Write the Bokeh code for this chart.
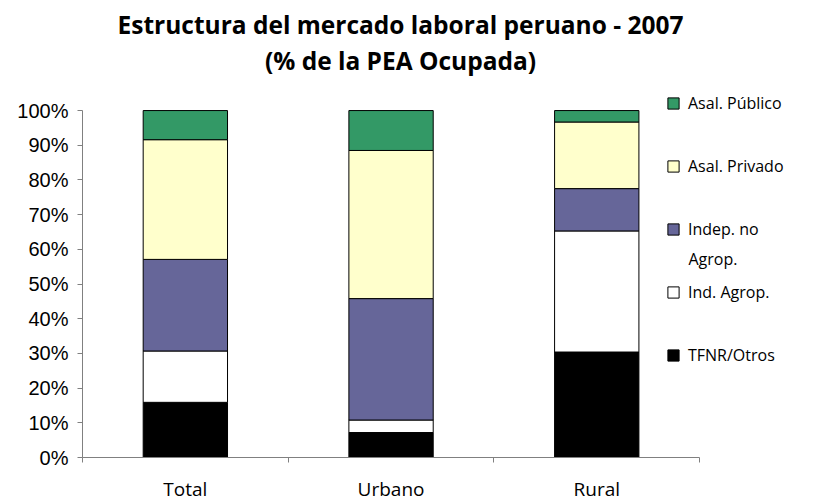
from bokeh.plotting import figure
from bokeh.models import (Range1d, FixedTicker, PrintfTickFormatter, Legend, LegendItem,
                          Label, ColumnDataSource)
from bokeh.embed import file_html
from bokeh.resources import INLINE

categories = ["Total", "Urbano", "Rural"]
series_names = ["TFNR/Otros", "Ind. Agrop.", "Indep. no", "Asal. Privado", "Asal. Público"]
series_name_cont = "Agrop."
tfnr = [15.9, 7.2, 30.4]
ind_agrop = [14.8, 3.6, 34.9]
indep_no_agrop = [26.4, 35.0, 12.2]
asal_privado = [34.5, 42.7, 19.2]
asal_publico = [8.4, 11.5, 3.3]
y_ticks = [0, 10, 20, 30, 40, 50, 60, 70, 80, 90, 100]
title_lines = ["Estructura del mercado laboral peruano - 2007", "(% de la PEA Ocupada)"]

colors = ["#000000", "#FFFFFF", "#666699", "#FFFFCC", "#339966"]
keys = ["tfnr", "ind", "indep", "priv", "pub"]

x = [i + 0.5 for i in range(len(categories))]
source = ColumnDataSource(dict(x=x, tfnr=tfnr, ind=ind_agrop, indep=indep_no_agrop,
                               priv=asal_privado, pub=asal_publico))

W, H = 800, 504
LEFT, RIGHT, TOP, BOTTOM = 82, 10, 0, 46
frame_w = W - LEFT - RIGHT
frame_h = H - TOP - BOTTOM
px_per_cat = 205.7
px_per_pct = 3.477

p = figure(width=W, height=H, output_backend="svg", toolbar_location=None,
           x_range=Range1d(0, frame_w / px_per_cat), y_range=Range1d(0, frame_h / px_per_pct),
           min_border_left=LEFT, min_border_right=RIGHT, min_border_top=TOP,
           min_border_bottom=BOTTOM)
p.outline_line_color = None
p.xgrid.visible = False
p.ygrid.visible = False
p.background_fill_color = "white"
p.border_fill_color = "white"

renderers = p.vbar_stack(keys, x="x", width=0.41, source=source, fill_color=colors,
                         line_color="black", line_width=1)

# y axis
ya = p.yaxis[0]
ya.bounds = (0, 100)
ya.ticker = FixedTicker(ticks=y_ticks, minor_ticks=[])
ya.formatter = PrintfTickFormatter(format="%d%%")
ya.axis_line_color = "#808080"
ya.major_tick_line_color = "#808080"
ya.major_tick_out = 5
ya.major_tick_in = 0
ya.major_label_standoff = 9
ya.major_label_text_font = "Liberation Sans"
ya.major_label_text_font_size = "20px"
ya.major_label_text_color = "black"

# x axis
xa = p.xaxis[0]
xa.bounds = (0, len(categories))
xa.ticker = FixedTicker(ticks=x, minor_ticks=list(range(len(categories) + 1)))
xa.major_label_overrides = {xx: c for xx, c in zip(x, categories)}
xa.axis_line_color = "#808080"
xa.major_tick_line_color = None
xa.minor_tick_line_color = "#808080"
xa.minor_tick_out = 5
xa.minor_tick_in = 0
xa.major_tick_out = 0
xa.major_tick_in = 0
xa.major_label_standoff = 13
xa.major_label_text_font = "Open Sans"
xa.major_label_text_font_size = "19px"
xa.major_label_text_color = "black"

# title (screen units are measured from the frame's bottom-left corner)
for line, yy in zip(title_lines, [433, 397]):
    p.add_layout(Label(x=318, y=yy, x_units="screen", y_units="screen", text=line,
                       text_font="Open Sans", text_font_style="bold", text_font_size="24.5px",
                       text_align="center", text_baseline="middle", text_color="black"))

items = [LegendItem(label=series_names[i], renderers=[renderers[i]]) for i in reversed(range(5))]
legend = Legend(items=items, location=(584, 91), orientation="vertical",
                glyph_width=14, glyph_height=14, label_height=14, spacing=41,
                label_standoff=8, padding=0, margin=0,
                label_text_font="Open Sans", label_text_font_size="16px",
                label_text_color="black",
                border_line_color=None, background_fill_alpha=0)
p.add_layout(legend)
p.add_layout(Label(x=606, y=199, x_units="screen", y_units="screen", text=series_name_cont,
                   text_font="Open Sans", text_font_size="16px", text_align="left",
                   text_baseline="middle", text_color="black"))

open("out.html", "w").write(file_html(p, INLINE))
